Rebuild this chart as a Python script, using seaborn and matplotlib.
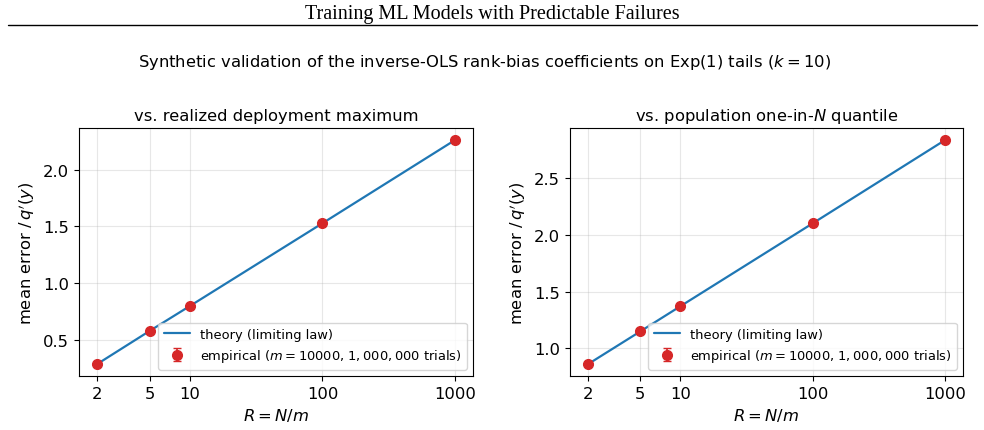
import numpy as np
import pandas as pd
import seaborn as sb
import matplotlib.pyplot as plt
from matplotlib.lines import Line2D
from matplotlib.ticker import FixedLocator, NullLocator

# values
ratios = [2, 5, 10, 100, 1000]
max_theory = [0.281, 0.576, 0.795, 1.528, 2.265]
max_empirical = [0.281, 0.576, 0.795, 1.528, 2.265]
max_err = [0.004, 0.004, 0.004, 0.005, 0.006]
quant_theory = [0.859, 1.150, 1.371, 2.103, 2.838]
quant_empirical = [0.859, 1.150, 1.371, 2.103, 2.838]
quant_err = [0.004, 0.004, 0.004, 0.005, 0.006]
tick_labels = ["2", "5", "10", "100", "1000"]

sb.set_style("ticks")
plt.rcParams["font.family"] = ["DejaVu Sans"]
for key in ["text.color", "axes.labelcolor", "xtick.color", "ytick.color", "axes.edgecolor"]:
    plt.rcParams[key] = "black"

fig = plt.figure(figsize=(9.84, 4.31), dpi=100)

# page header
fig.text(0.5, 0.967, "Training ML Models with Predictable Failures", ha="center", va="center",
         family="Liberation Serif", fontsize=14.5)
fig.add_artist(Line2D([0.008, 0.993], [0.94, 0.94], transform=fig.transFigure, color="black", lw=1.0))

fig.text(0.4925, 0.856, r"Synthetic validation of the inverse-OLS rank-bias coefficients on Exp(1) tails ($k=10$)",
         ha="center", va="center", fontsize=11.8)

ax1 = fig.add_axes([0.080, 0.125, 0.401, 0.576])
ax2 = fig.add_axes([0.579, 0.125, 0.400, 0.576])

panels = [
    (ax1, max_theory, max_empirical, max_err, "vs. realized deployment maximum"),
    (ax2, quant_theory, quant_empirical, quant_err, r"vs. population one-in-$N$ quantile"),
]

for ax, theory, emp, err, title in panels:
    df = pd.DataFrame({"R": ratios, "theory": theory})
    sb.lineplot(data=df, x="R", y="theory", ax=ax, color="#1f77b4", lw=1.6,
                label="theory (limiting law)")
    ax.errorbar(ratios, emp, yerr=err, fmt="o", color="#d62728", ms=7, capsize=3, lw=1.2,
                label=r"empirical ($m=10000$, $1,000,000$ trials)", zorder=3)
    ax.set_xscale("log")
    ax.xaxis.set_major_locator(FixedLocator(ratios))
    ax.xaxis.set_minor_locator(NullLocator())
    ax.set_xticklabels(tick_labels)
    ax.grid(True, color="#b0b0b0", alpha=0.3, lw=0.8)
    ax.set_title(title, fontsize=11.8)
    ax.set_xlabel(r"$R = N/m$", fontsize=11.8)
    ax.set_ylabel(r"mean error $/\,q'(y)$", fontsize=11.8)
    ax.tick_params(labelsize=11.8, direction="out", length=3.5, width=0.8)
    for s in ax.spines.values():
        s.set_linewidth(0.8)
    ax.legend(loc="lower right", fontsize=9.4, framealpha=0.8)

fig.savefig("out.png", dpi=100)
